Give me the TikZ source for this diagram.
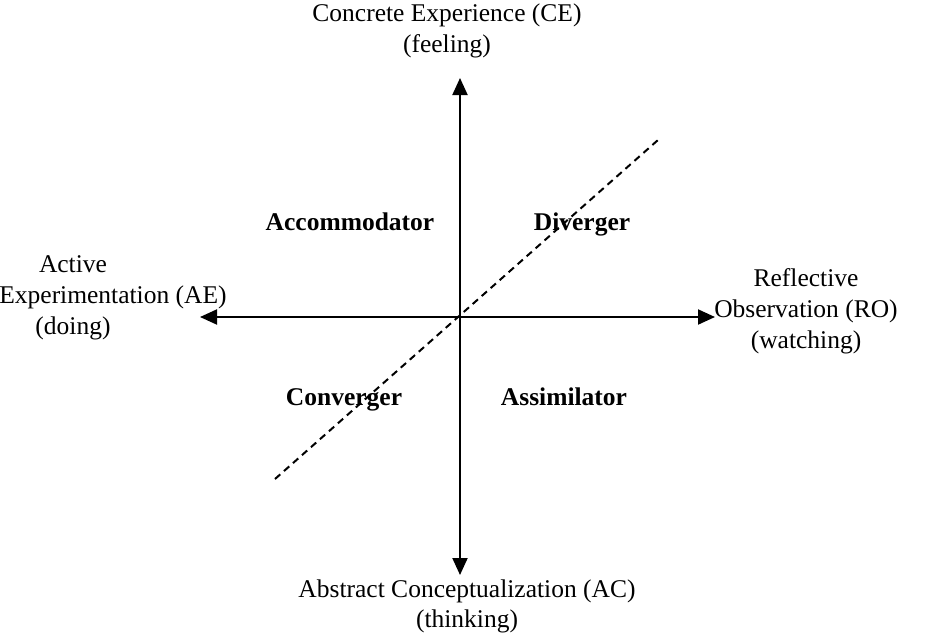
\documentclass[tikz,border=0pt]{standalone}
\usepackage{fontspec}
\setmainfont{Liberation Serif}
\usetikzlibrary{arrows.meta}
\begin{document}
\begin{tikzpicture}[x=1pt,y=-1pt,
  lbl/.style={inner sep=0pt, anchor=center, font=\fontsize{25.5}{30}\selectfont, text height=0.68em, text depth=0.2em},
  blbl/.style={lbl, font=\fontsize{25.5}{30}\selectfont\bfseries},
  axis/.style={line width=2pt, {Triangle[length=17pt,width=15pt]}-{Triangle[length=17pt,width=15pt]}},
  diag/.style={line width=2pt, dash pattern=on 7pt off 5pt}]
\useasboundingbox (0,0) rectangle (933,632);
\coordinate (O) at (460,317);
\coordinate (T) at (460,78);
\coordinate (B) at (460,575);
\coordinate (L) at (200,317);
\coordinate (R) at (715,317);
\coordinate (D1) at (275,479);
\coordinate (D2) at (658,140);
\draw[axis] (B) -- (T);
\draw[axis] (L) -- (R);
\draw[diag] (D1) -- (D2);
% top
\node[lbl] (ce1) at (447,19) {Concrete Experience (CE)};
\node[lbl] (ce2) at (447,50) {(feeling)};
% bottom
\node[lbl] (ac1) at (467,595) {Abstract Conceptualization (AC)};
\node[lbl] (ac2) at (467,625) {(thinking)};
% left
\node[lbl] (ae1) at (73,270) {Active};
\node[lbl] (ae2) at (113,301) {Experimentation (AE)};
\node[lbl] (ae3) at (73,332) {(doing)};
% right
\node[lbl] (ro1) at (806,284) {Reflective};
\node[lbl] (ro2) at (806,315) {Observation (RO)};
\node[lbl] (ro3) at (806,346) {(watching)};
% quadrants
\node[blbl] (acc) at (350,228) {Accommodator};
\node[blbl] (div) at (582,228) {Diverger};
\node[blbl] (con) at (344,403) {Converger};
\node[blbl] (ass) at (564,403) {Assimilator};
\end{tikzpicture}
\end{document}
